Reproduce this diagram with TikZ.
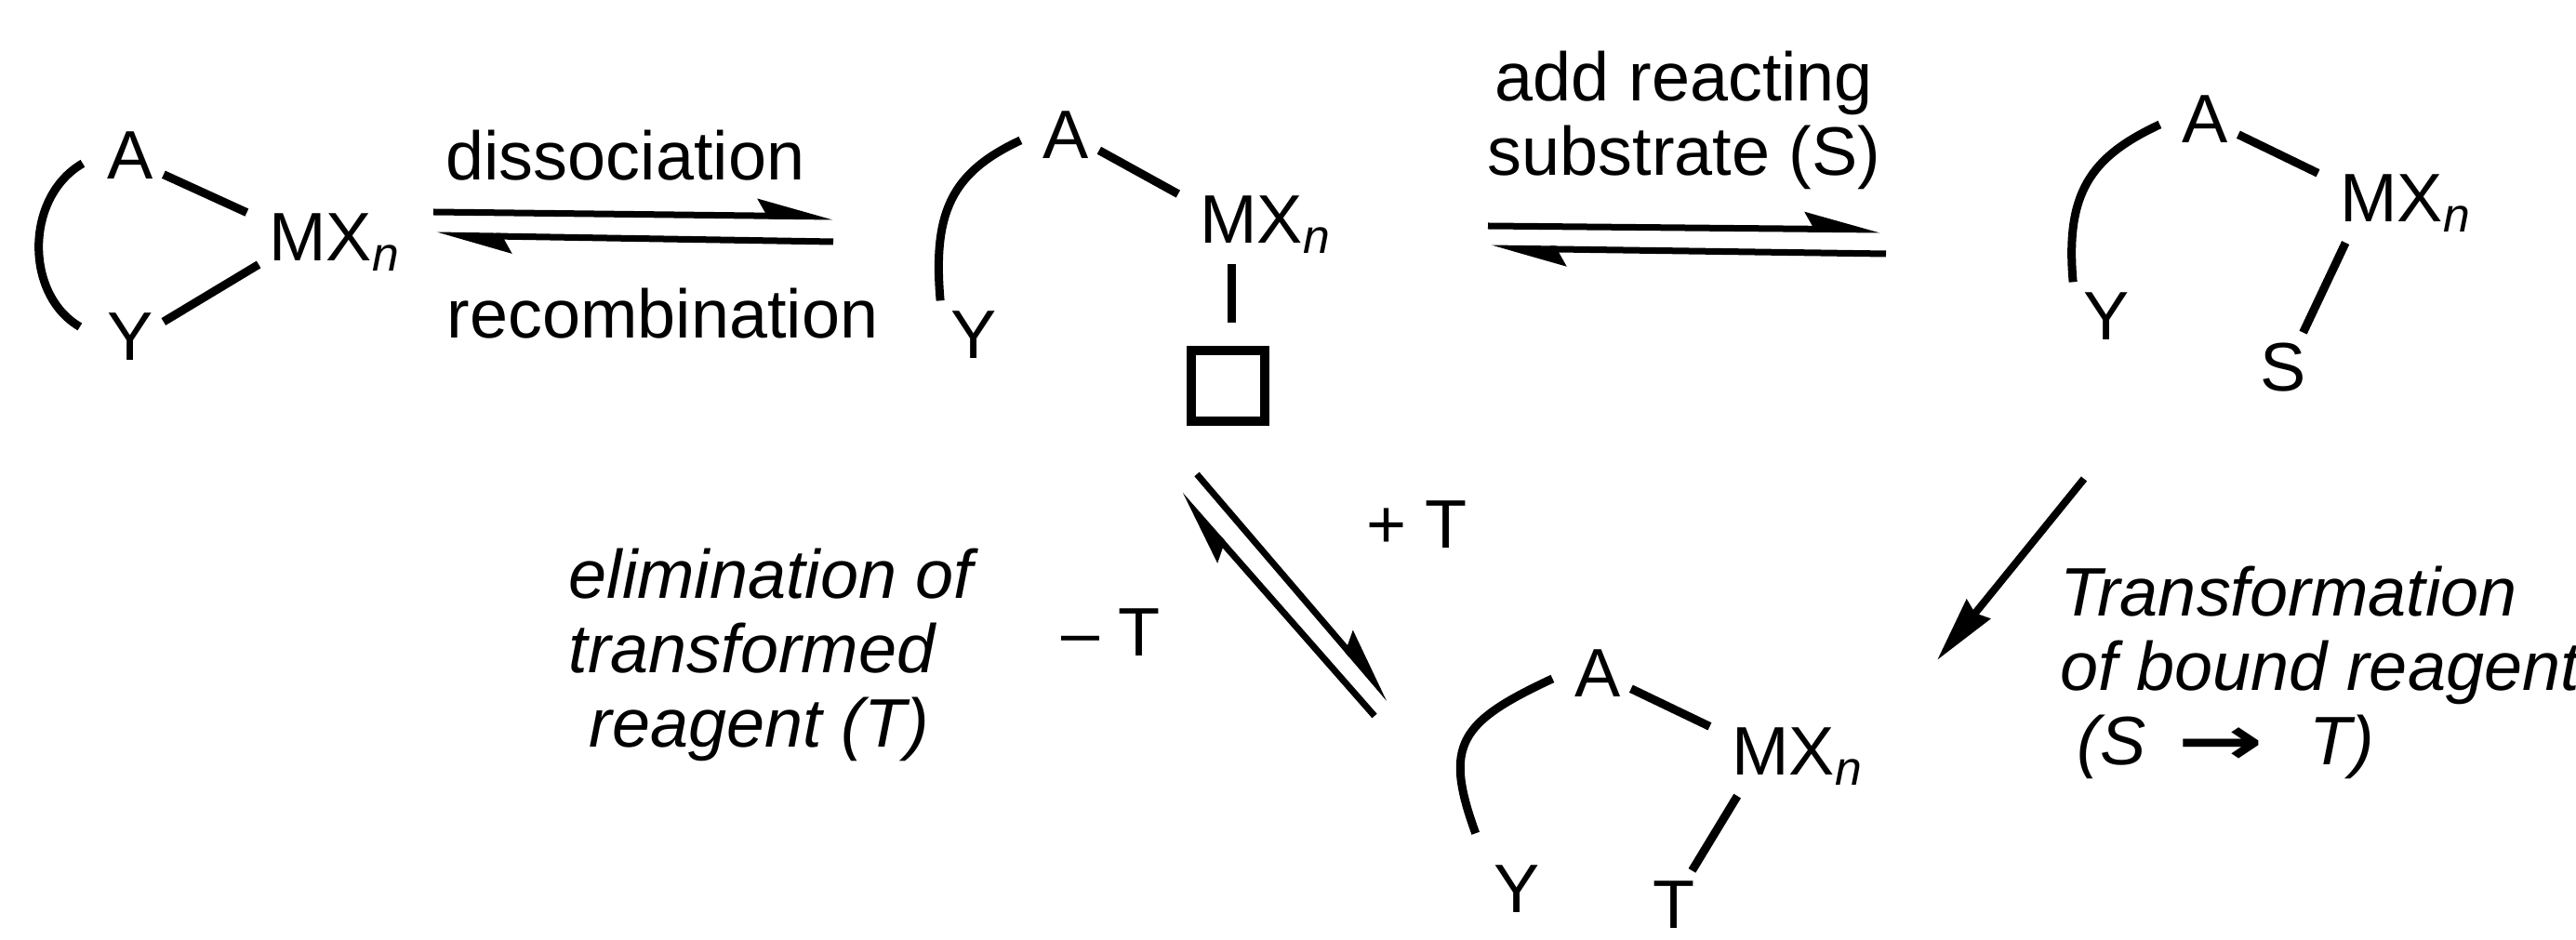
\documentclass[tikz,border=0pt]{standalone}
\usepackage{fontspec}
\setmainfont{Liberation Sans}
\newfontfamily\arrowfont{DejaVu Sans}
\usetikzlibrary{arrows.meta, positioning}

\begin{document}
\begin{tikzpicture}[
  on grid,
  atom/.style={
    inner sep=3pt, font=\fontsize{21}{24}\selectfont
  },
  vacant/.style={
    rectangle, draw, line width=1mm,
    minimum width=7.9mm, minimum height=7.6mm
  },
  bond/.style={line width=0.9mm},
  ring/.style={
    line width=0.9mm, out=-155, in=95, looseness=1.2, shorten <=4pt
  },
  halfarrow/.style={
    line width=0.7mm,
    -{Stealth[harpoon, length=6.8mm, width=3.6mm, inset=1mm]}
  },
  steparrow/.style={
    line width=0.8mm,
    -{Stealth[length=7mm, width=3.2mm, inset=0.5mm]}
  },
  steptext/.style={
    inner sep=0pt, font=\fontsize{21}{22.8}\selectfont
  }
]
\useasboundingbox (0,0) rectangle (27.7,-10.11);

% Chelate
\node[atom] (a1) at (1.40,-1.67) {A};
\node[atom, below right=9.4mm and 22mm of a1] (m1) {MX\textsubscript{\textit{n}}};
\node[atom, below=19.5mm of a1] (y1) {Y};

% Open form with vacant site
\node[atom] (a2) at (11.46,-1.45) {A};
\node[atom, below right=9.7mm and 21.5mm of a2] (m2) {MX\textsubscript{\textit{n}}};
\node[atom, below left=21.5mm and 9.9mm of a2] (y2) {Y};
\node[vacant, below left=17.3mm and 4.1mm of m2] (site2) {};

% Substrate bound
\node[atom] (a3) at (23.71,-1.28) {A};
\node[atom, below right=9.1mm and 21.6mm of a3] (m3) {MX\textsubscript{\textit{n}}};
\node[atom, below left=21.2mm and 10.6mm of a3] (y3) {Y};
\node[atom, below left=17.6mm and 13.2mm of m3] (s3) {S};

% Product bound
\node[atom] (a4) at (17.18,-7.24) {A};
\node[atom, below right=9mm and 21.5mm of a4] (m4) {MX\textsubscript{\textit{n}}};
\node[atom, below left=23.2mm and 8.7mm of a4] (y4) {Y};
\node[atom, below left=15.9mm and 13.3mm of m4] (t4) {T};

% Bonds
\draw[bond, shorten >=4pt] (a1.-30) -- (m1.162);
\draw[bond] (m1.196) -- (y1.24);
\draw[bond, shorten >=4pt] (a2.-25) -- (m2.162);
\draw[bond, shorten >=7pt] (m2.229) -- (m2.229 |- site2.north);
\draw[bond, shorten >=4pt] (a3.-25) -- (m3.162);
\draw[bond] (m3.213) -- (s3.60);
\draw[bond, shorten >=4pt] (a4.-25) -- (m4.162);
\draw[bond] (m4.213) -- (t4.62);

% Ring backbones
\draw[ring, out=-150, in=150, looseness=1.18, shorten <=5pt, shorten >=6pt] (a1.west) to (y1.west);
\draw[ring] (a2.west) to (y2.north west);
\draw[ring] (a3.west) to (y3.north west);
\draw[ring, in=110, looseness=1.5, shorten >=7pt] (a4.west) to (y4.north west);

% Arrow ends
\coordinate (d1) at (4.66,-2.28);
\coordinate (d2) at (8.96,-2.33);
\coordinate (r1) at (8.96,-2.60);
\coordinate (r2) at (4.69,-2.53);
\coordinate (add1) at (16.00,-2.43);
\coordinate (add2) at (20.22,-2.47);
\coordinate (off1) at (20.28,-2.73);
\coordinate (off2) at (16.03,-2.67);
\coordinate (plus1) at (12.87,-5.10);
\coordinate (plus2) at (14.94,-7.52);
\coordinate (minus1) at (14.78,-7.70);
\coordinate (minus2) at (12.69,-5.32);
\coordinate (tr1) at (22.41,-5.15);
\coordinate (tr2) at (20.83,-7.10);

% Arrows with labels
\draw[halfarrow] (d1) -- node[steptext, pos=0.48, above=3.3mm] (dissoc) {dissociation} (d2);
\draw[halfarrow] (r1) -- node[steptext, pos=0.43, below=5mm] (recomb) {recombination} (r2);
\draw[halfarrow] (add1) -- node[steptext, align=center, above=3.8mm] (addsub) {add reacting\\substrate (S)} (add2);
\draw[halfarrow] (off1) -- (off2);
\draw[halfarrow] (plus1) -- node[steptext, above right=3.8mm and 7.5mm] (plusT) {+ T} (plus2);
\draw[halfarrow] (minus1) -- node[steptext, below left=0mm and 12.2mm] (minusT) {– T} (minus2);
\draw[steparrow] (tr1) -- (tr2);

% Side notes
\node[steptext, align=left, anchor=north west, font=\fontsize{21}{22.8}\selectfont\itshape] (elim) at (6.11,-5.89)
  {elimination of\\transformed\\\hspace*{2.2mm}reagent (T)};
\node[steptext, align=left, anchor=north west, font=\fontsize{21}{22.8}\selectfont\itshape] (transf) at (22.15,-6.08)
  {Transformation\\of bound reagent\\\hspace*{1.8mm}(S\hspace{3.4mm}\scalebox{1.5}[1]{\arrowfont\upshape\bfseries →}\hspace{4.9mm}T)};

\end{tikzpicture}
\end{document}
